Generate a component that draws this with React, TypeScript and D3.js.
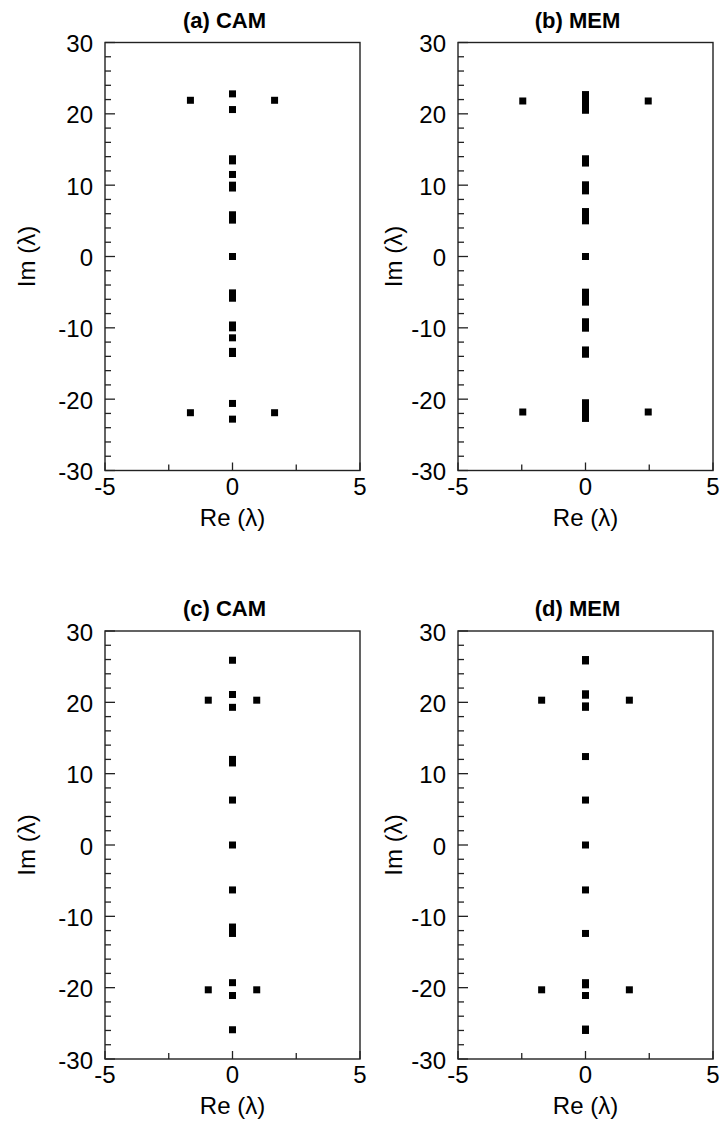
import React from "react";
import * as d3 from "d3";

// eigenvalue locations, [Re, Im]
const camA: [number, number][] = [
  [0, 22.8], [-1.65, 21.9], [1.65, 21.9], [0, 20.6],
  [0, 13.7], [0, 13.4], [0, 11.5], [0, 10.0], [0, 9.6],
  [0, 5.85], [0, 5.1], [0, 0],
  [0, -5.1], [0, -5.85], [0, -9.6], [0, -10.0], [0, -11.4],
  [0, -13.3], [0, -13.6], [0, -20.6], [-1.65, -21.9], [1.65, -21.9], [0, -22.8],
];

const memB: [number, number][] = [
  [0, 22.7], [0, 22.2], [0, 21.6], [0, 21.1], [0, 20.5],
  [-2.46, 21.8], [2.46, 21.8],
  [0, 13.7], [0, 13.1], [0, 10.05], [0, 9.2],
  [0, 6.3], [0, 5.7], [0, 5.0], [0, 0],
  [0, -5.0], [0, -5.7], [0, -6.4], [0, -9.15], [0, -10.05],
  [0, -13.1], [0, -13.7],
  [0, -20.5], [0, -21.1], [0, -21.6], [0, -22.2], [0, -22.7],
  [-2.46, -21.8], [2.46, -21.8],
];

const camC: [number, number][] = [
  [0, 25.9], [0, 21.1], [-0.95, 20.3], [0.95, 20.3], [0, 19.3],
  [0, 12.0], [0, 11.5], [0, 6.3], [0, 0], [0, -6.3],
  [0, -11.5], [0, -12.4], [0, -19.3], [-0.95, -20.3], [0.95, -20.3],
  [0, -21.1], [0, -25.9],
];

const memD: [number, number][] = [
  [0, 26.0], [0, 25.8], [0, 21.2], [0, 21.0], [-1.72, 20.3], [1.72, 20.3],
  [0, 19.5], [0, 19.3], [0, 12.4], [0, 6.3], [0, 0], [0, -6.3], [0, -12.4],
  [0, -19.3], [0, -19.6], [-1.72, -20.3], [1.72, -20.3], [0, -21.1],
  [0, -25.8], [0, -26.0],
];

const titles = ["(a) CAM", "(b) MEM", "(c) CAM", "(d) MEM"];
const yTicks = [-30, -20, -10, 0, 10, 20, 30];
const xTicks = [-5, 0, 5];

const W = 723;
const H = 1132;
const PW = 255;
const PH = 428;
const FONT = "'Liberation Sans', Arial, sans-serif";

const panels = [
  { x: 105, y: 42.5, data: camA, imOff: -70 },
  { x: 458, y: 42.5, data: memB, imOff: -56 },
  { x: 105, y: 631, data: camC, imOff: -70 },
  { x: 458, y: 631, data: memD, imOff: -56 },
];

type PanelProps = { x: number; y: number; data: [number, number][]; title: string; imOff: number };

const Panel = ({ x, y, data, title, imOff }: PanelProps) => {
  const xs = d3.scaleLinear().domain([-5, 5]).range([0, PW]);
  const ys = d3.scaleLinear().domain([-30, 30]).range([PH, 0]);
  const minorY = d3.range(-30, 31, 2).filter((v) => v % 10 !== 0);
  const minorX = [-2.5, 2.5];
  const s = 7;
  return (
    <g transform={`translate(${x},${y})`}>
      <text x={PW / 2 - 8} y={-15} textAnchor="middle" fontFamily={FONT} fontWeight="bold" fontSize={22}>
        {title}
      </text>
      {data.map(([re, im], i) => (
        <rect key={i} x={xs(re) - s / 2} y={ys(im) - s / 2} width={s} height={s} fill="#000" />
      ))}
      <rect x={0} y={0} width={PW} height={PH} fill="none" stroke="#222" strokeWidth={1.4} />
      {yTicks.map((v) => (
        <line key={v} x1={0} x2={10} y1={ys(v)} y2={ys(v)} stroke="#222" strokeWidth={1.3} />
      ))}
      {minorY.map((v) => (
        <line key={v} x1={0} x2={6} y1={ys(v)} y2={ys(v)} stroke="#222" strokeWidth={1.3} />
      ))}
      {xTicks.map((v) => (
        <line key={v} x1={xs(v)} x2={xs(v)} y1={PH} y2={PH - 8} stroke="#222" strokeWidth={1.3} />
      ))}
      {minorX.map((v) => (
        <line key={v} x1={xs(v)} x2={xs(v)} y1={PH} y2={PH - 6} stroke="#222" strokeWidth={1.3} />
      ))}
      {yTicks.map((v) => (
        <text key={v} x={-12} y={ys(v)} dy="0.4em" textAnchor="end" fontFamily={FONT} fontSize={24}>
          {v}
        </text>
      ))}
      {xTicks.map((v) => (
        <text key={v} x={xs(v)} y={PH + 24} textAnchor="middle" fontFamily={FONT} fontSize={24}>
          {v}
        </text>
      ))}
      <text x={PW / 2} y={PH + 55} textAnchor="middle" fontFamily={FONT} fontSize={24}>
        Re (λ)
      </text>
      <text
        transform={`translate(${imOff},${PH / 2}) rotate(-90)`}
        textAnchor="middle"
        fontFamily={FONT}
        fontSize={24}
      >
        Im (λ)
      </text>
    </g>
  );
};

export default function App() {
  return (
    <div style={{ position: "absolute", left: 0, top: 0, background: "#fff" }}>
      <svg width={W} height={H} viewBox={`0 0 ${W} ${H}`}>
        <rect width={W} height={H} fill="#fff" />
        {panels.map((p, i) => (
          <Panel key={i} x={p.x} y={p.y} data={p.data} title={titles[i]} imOff={p.imOff} />
        ))}
      </svg>
    </div>
  );
}
